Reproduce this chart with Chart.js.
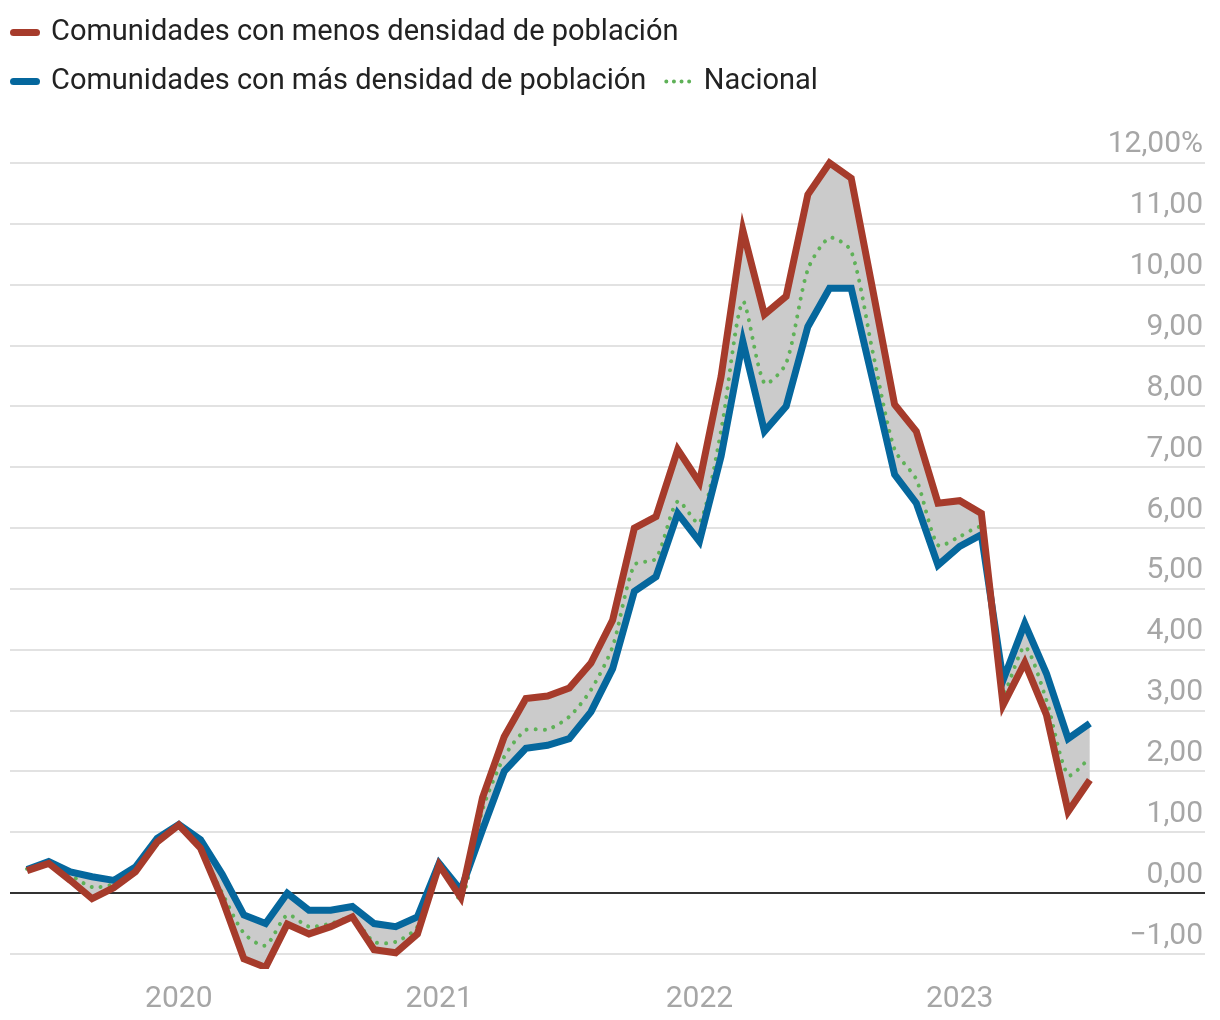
<!DOCTYPE html>
<html><head><meta charset="utf-8">
<script src="https://cdn.jsdelivr.net/npm/chart.js@4.4.1/dist/chart.umd.min.js"></script>
<style>html,body{margin:0;padding:0;background:#fff;}canvas{display:block;}</style>
</head><body>
<canvas id="c" width="1220" height="1020"></canvas>
<script>
const months = ['2019-06','2019-07','2019-08','2019-09','2019-10','2019-11','2019-12',
'2020-01','2020-02','2020-03','2020-04','2020-05','2020-06','2020-07','2020-08','2020-09','2020-10','2020-11','2020-12',
'2021-01','2021-02','2021-03','2021-04','2021-05','2021-06','2021-07','2021-08','2021-09','2021-10','2021-11','2021-12',
'2022-01','2022-02','2022-03','2022-04','2022-05','2022-06','2022-07','2022-08','2022-09','2022-10','2022-11','2022-12',
'2023-01','2023-02','2023-03','2023-04','2023-05','2023-06','2023-07'];

const lessDense = [0.37,0.49,0.21,-0.09,0.09,0.35,0.84,1.12,0.74,-0.10,-1.08,-1.22,-0.51,-0.67,-0.55,-0.39,-0.93,-0.98,-0.67,0.46,-0.07,1.57,2.57,3.20,3.24,3.37,3.78,4.49,6.00,6.19,7.29,6.75,8.49,10.90,9.51,9.81,11.48,12.00,11.75,9.90,8.03,7.59,6.41,6.45,6.24,3.09,3.79,2.93,1.34,1.86];
const moreDense = [0.39,0.52,0.35,0.27,0.21,0.43,0.90,1.13,0.88,0.31,-0.36,-0.50,0.00,-0.28,-0.28,-0.22,-0.50,-0.55,-0.39,0.49,0.05,1.04,2.00,2.38,2.43,2.54,2.98,3.69,4.96,5.20,6.24,5.78,7.18,9.07,7.59,8.00,9.31,9.94,9.94,8.42,6.88,6.41,5.39,5.70,5.89,3.50,4.43,3.61,2.54,2.79];
const national = [0.40,0.50,0.30,0.10,0.15,0.40,0.80,1.10,0.70,0.00,-0.66,-0.86,-0.36,-0.55,-0.50,-0.41,-0.80,-0.80,-0.55,0.50,-0.10,1.37,2.24,2.68,2.69,2.90,3.34,4.05,5.39,5.50,6.44,6.08,7.60,9.72,8.38,8.71,10.25,10.77,10.55,8.88,7.29,6.80,5.72,5.86,6.00,3.30,4.05,3.17,1.94,2.22];

const seriesNames = ['Comunidades con menos densidad de población','Comunidades con más densidad de población','Nacional'];
const yearLabels = ['2020','2021','2022','2023'];
const yearMonths = ['2020-01','2021-01','2022-01','2023-01'];
const yTickValues = [-1,0,1,2,3,4,5,6,7,8,9,10,11,12];

const RED = '#a63b2b', BLUE = '#05679d', GREEN = '#5fb158', FILL = '#cbcbcb';
const FONT = 'Roboto, "Noto Sans", sans-serif';

const pts = arr => arr.map((v, i) => ({x: i, y: v}));
const yearIdx = yearMonths.map(m => months.indexOf(m));

const layoutTweak = {
  id: 'layoutTweak',
  beforeLayout(chart) {
    const lg = chart.legend;
    if (lg && !lg._patched) {
      const f = lg.fit.bind(lg);
      lg.fit = function () { f(); this.height = 140; };
      lg._patched = true;
    }
  },
  afterLayout(chart) {
    const lg = chart.legend;
    if (lg) { lg.left = -6.5; lg.top = -2; }
  }
};

new Chart(document.getElementById('c'), {
  type: 'line',
  data: {
    datasets: [
      { label: seriesNames[0], data: pts(lessDense), borderColor: RED, borderWidth: 7, backgroundColor: FILL,
        fill: { target: 1, above: FILL, below: FILL }, pointRadius: 0, tension: 0, borderJoinStyle: 'miter' },
      { label: seriesNames[1], data: pts(moreDense), borderColor: BLUE, borderWidth: 7, backgroundColor: FILL,
        fill: false, pointRadius: 0, tension: 0, borderJoinStyle: 'miter' },
      { label: seriesNames[2], data: pts(national), borderColor: GREEN, borderWidth: 4, borderDash: [0.01, 9],
        borderCapStyle: 'round', fill: false, pointRadius: 0, tension: 0.25 }
    ]
  },
  options: {
    responsive: false,
    animation: false,
    devicePixelRatio: 1,
    layout: { padding: { left: 10, right: 15, top: 0, bottom: -1 } },
    plugins: {
      filler: { drawTime: 'beforeDatasetsDraw' },
      tooltip: { enabled: false },
      legend: {
        position: 'top', align: 'start',
        labels: {
          usePointStyle: true, pointStyle: 'line', pointStyleWidth: 23, padding: 20,
          color: '#222', font: { family: FONT, size: 29 },
          generateLabels(chart) {
            const items = Chart.defaults.plugins.legend.labels.generateLabels(chart);
            items.forEach((it, i) => {
              it.pointStyle = 'line';
              it.lineCap = 'round';
              if (i < 2) { it.lineWidth = 7; it.lineDash = []; }
              else { it.lineWidth = 4; it.lineDash = [0.01, 7.6]; }
            });
            return items;
          }
        }
      }
    },
    scales: {
      x: {
        type: 'linear', min: -0.784, max: 54.31,
        grid: { display: false }, border: { display: false },
        afterBuildTicks(scale) { scale.ticks = yearIdx.map(v => ({ value: v })); },
        ticks: {
          padding: 4, color: '#a6a6a6', font: { family: FONT, size: 30 },
          autoSkip: false, maxRotation: 0,
          callback(v) { const k = yearIdx.indexOf(v); return k >= 0 ? yearLabels[k] : ''; }
        }
      },
      y: {
        type: 'linear', position: 'right', min: -1.2465, max: 12.378,
        border: { display: false },
        grid: { drawTicks: false, lineWidth: 2,
          color: ctx => (ctx.tick && ctx.tick.value === 0) ? '#333333' : '#e2e2e2' },
        afterBuildTicks(scale) { scale.ticks = yTickValues.map(v => ({ value: v })); },
        ticks: {
          mirror: true, padding: -2, labelOffset: -18, autoSkip: false,
          color: '#a6a6a6', font: { family: FONT, size: 30 },
          callback(v) {
            const s = Math.abs(v).toFixed(2).replace('.', ',');
            if (v === 12) return s + '%';
            return (v < 0 ? '\u2212' : '') + s;
          }
        }
      }
    }
  },
  plugins: [layoutTweak]
});
</script>
</body></html>
